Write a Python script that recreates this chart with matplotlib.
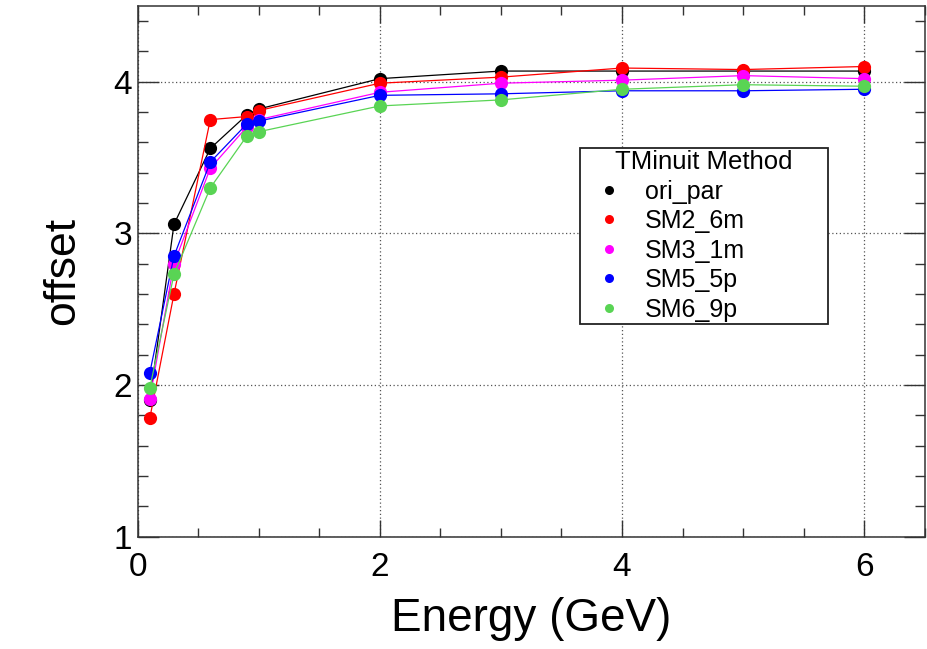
"""Offset vs. energy for several TMinuit parameter sets (ROOT-style plot)."""

import matplotlib

matplotlib.use("Agg")

import matplotlib.pyplot as plt
from matplotlib.lines import Line2D
from matplotlib.ticker import MultipleLocator

energy = [0.1, 0.3, 0.6, 0.9, 1.0, 2.0, 3.0, 4.0, 5.0, 6.0]

ori_par = [1.90, 3.06, 3.56, 3.78, 3.82, 4.02, 4.07, 4.07, 4.07, 4.07]
sm2_6m = [1.78, 2.60, 3.75, 3.77, 3.81, 3.99, 4.03, 4.09, 4.08, 4.10]
sm3_1m = [1.91, 2.80, 3.43, 3.70, 3.75, 3.93, 3.99, 4.01, 4.04, 4.02]
sm5_5p = [2.08, 2.85, 3.47, 3.72, 3.74, 3.91, 3.92, 3.94, 3.94, 3.95]
sm6_9p = [1.98, 2.73, 3.30, 3.64, 3.67, 3.84, 3.88, 3.95, 3.98, 3.97]

series_names = ["ori_par", "SM2_6m", "SM3_1m", "SM5_5p", "SM6_9p"]
series_values = [ori_par, sm2_6m, sm3_1m, sm5_5p, sm6_9p]
series_colors = ["#000000", "#ff0000", "#ff00ff", "#0000ff", "#59d454"]

plt.rcParams["font.family"] = ["Liberation Sans", "DejaVu Sans"]

fig = plt.figure(figsize=(9.27, 6.49), dpi=100)
ax = fig.add_axes([0.1485, 0.173, 0.849, 0.818])

for name, values, color in zip(series_names, series_values, series_colors):
    ax.plot(energy, values, color=color, linewidth=0.9, marker="o",
            markersize=9.5, markeredgewidth=0, label=name)

ax.set_xlim(0, 6.5)
ax.set_ylim(1, 4.5)
ax.xaxis.set_major_locator(MultipleLocator(2))
ax.xaxis.set_minor_locator(MultipleLocator(0.5))
ax.yaxis.set_major_locator(MultipleLocator(1))
ax.yaxis.set_minor_locator(MultipleLocator(0.2))

ax.grid(True, which="major", color="#555555", linestyle=(0, (1, 2)), linewidth=0.9)
ax.set_axisbelow(True)

for spine in ax.spines.values():
    spine.set_linewidth(1.1)
    spine.set_color("#333333")

ax.tick_params(which="both", direction="in", top=True, right=True, color="#333333", width=1.0)
ax.tick_params(axis="x", which="major", length=12, pad=11, labelsize=24)
ax.tick_params(axis="x", which="minor", length=6.5)
ax.tick_params(axis="y", which="major", length=15, pad=4, labelsize=24)
ax.tick_params(axis="y", which="minor", length=7.5)

ax.set_xlabel("Energy (GeV)", fontsize=33, labelpad=10)
ax.set_ylabel("offset", fontsize=32, labelpad=22)

# legend box stretched to the width used in the original
handles = [Line2D([], [], color=c, marker="o", linestyle="none", markersize=6.5,
                  markeredgewidth=0) for c in series_colors]
leg = ax.legend(handles, series_names, title="TMinuit Method", loc="upper left",
                bbox_to_anchor=(0.562, 0.0, 0.315, 0.733), mode="expand",
                fontsize=18, title_fontsize=18.5, frameon=True, fancybox=False,
                borderaxespad=0, borderpad=0.1, labelspacing=0.22,
                handletextpad=0.35, handlelength=2.15)
leg.get_frame().set_edgecolor("#222222")
leg.get_frame().set_linewidth(1.3)
leg.get_frame().set_alpha(1)

fig.savefig("out.png", dpi=100)
